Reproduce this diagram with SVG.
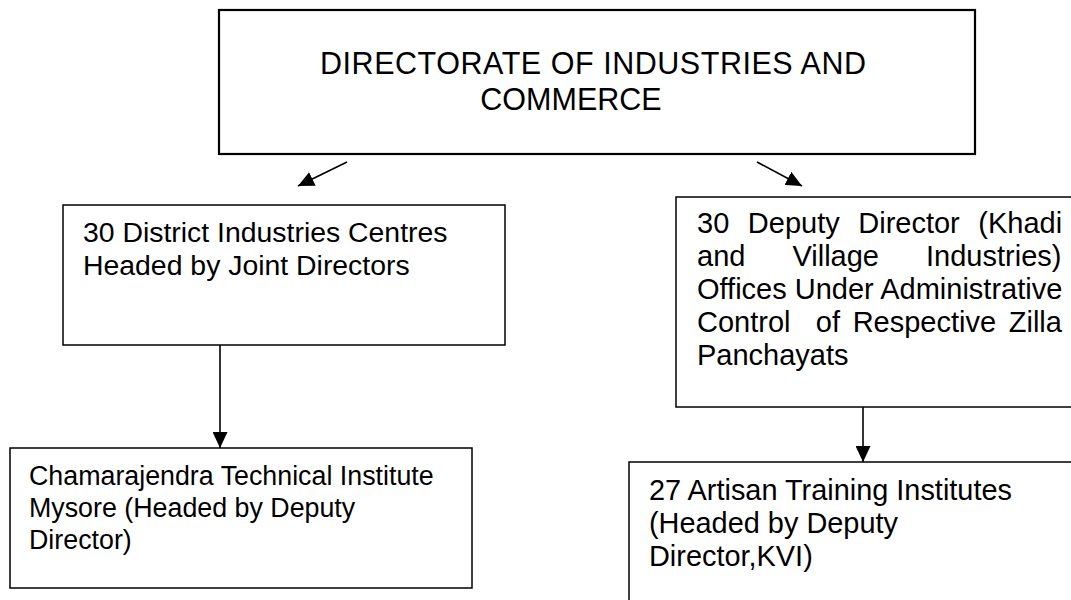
<svg xmlns="http://www.w3.org/2000/svg" width="1071" height="600" viewBox="0 0 1071 600">
  <defs>
    <marker id="arrow" markerUnits="userSpaceOnUse" markerWidth="17" markerHeight="15" refX="16" refY="7.5" orient="auto">
      <path d="M0,0 L16,7.5 L0,15 Z" fill="#000"/>
    </marker>
  </defs>
  <style>
    .box { fill: #fff; stroke: #000; stroke-width: 1.5; }
    .top { stroke-width: 2.2; }
    .t { font-family: "Liberation Sans", Arial, sans-serif; fill: #000; }
    .conn { stroke: #000; stroke-width: 1.6; fill: none; marker-end: url(#arrow); }
  </style>
  <rect width="1071" height="600" fill="#fff"/>

  <g id="directorate">
    <rect class="box top" x="219" y="10" width="756" height="144"/>
    <text class="t" font-size="30.5">
      <tspan x="320" y="74" textLength="546" lengthAdjust="spacing">DIRECTORATE OF INDUSTRIES AND</tspan>
    </text>
    <text class="t" font-size="30.5" text-anchor="middle">
      <tspan x="571" y="110">COMMERCE</tspan>
    </text>
  </g>

  <g id="dic">
    <rect class="box" x="63" y="205" width="442" height="140"/>
    <text class="t" font-size="28.4">
      <tspan x="83" y="242">30 District Industries Centres</tspan>
      <tspan x="83" y="274.5">Headed by Joint Directors</tspan>
    </text>
  </g>

  <g id="khadi">
    <rect class="box" x="676" y="197" width="410" height="210"/>
    <text class="t" font-size="29" x="697" y="233" word-spacing="10.5">30 Deputy Director (Khadi</text>
    <text class="t" font-size="29" x="697" y="266" word-spacing="39">and Village Industries)</text>
    <text class="t" font-size="29" x="697" y="299">Offices Under Administrative</text>
    <text class="t" font-size="29" x="697" y="332" word-spacing="4.6" xml:space="preserve">Control  of Respective Zilla</text>
    <text class="t" font-size="29" x="697" y="365">Panchayats</text>
  </g>

  <g id="cti">
    <rect class="box" x="10" y="448" width="462" height="140"/>
    <text class="t" font-size="26.8">
      <tspan x="29" y="485">Chamarajendra Technical Institute</tspan>
      <tspan x="29" y="517">Mysore (Headed by Deputy</tspan>
      <tspan x="29" y="549">Director)</tspan>
    </text>
  </g>

  <g id="ati">
    <rect class="box" x="629" y="462" width="460" height="150"/>
    <text class="t" font-size="28.9">
      <tspan x="649" y="500">27 Artisan Training Institutes</tspan>
      <tspan x="649" y="533">(Headed by Deputy</tspan>
      <tspan x="649" y="566">Director,KVI)</tspan>
    </text>
  </g>

  <g id="connectors">
    <line class="conn" x1="347" y1="162" x2="298" y2="186"/>
    <line class="conn" x1="757" y1="162" x2="802" y2="186"/>
    <line class="conn" x1="220" y1="345" x2="220" y2="448"/>
    <line class="conn" x1="863" y1="407" x2="863" y2="462"/>
  </g>
</svg>
